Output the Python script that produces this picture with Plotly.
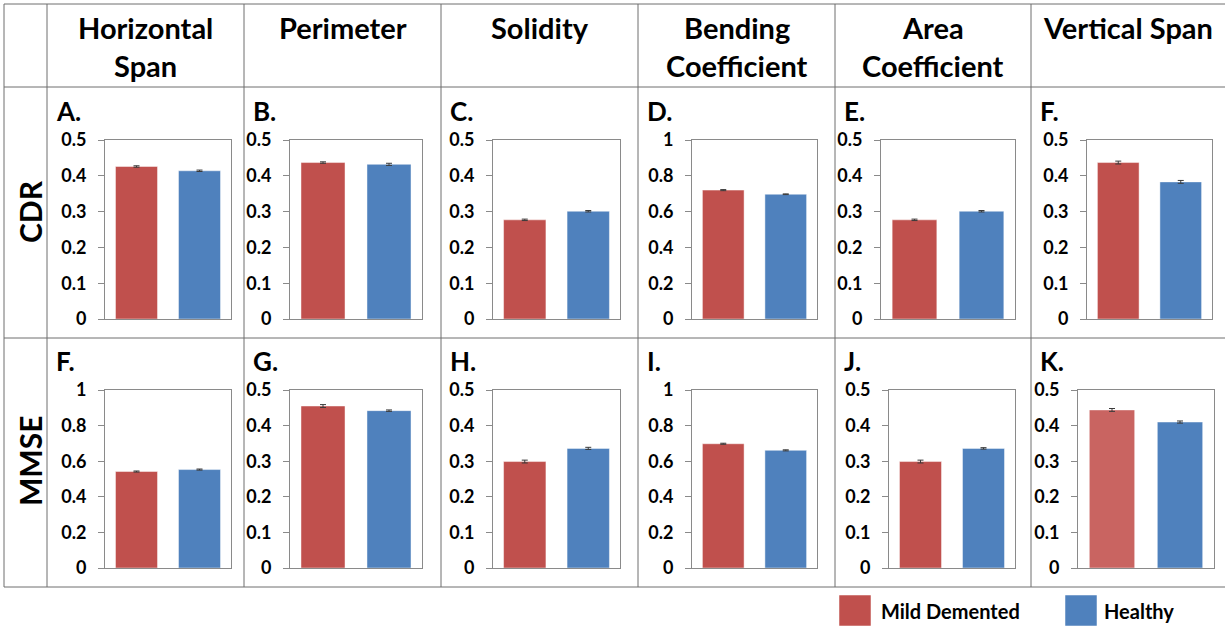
import plotly.graph_objects as go

W, H = 1225, 628

# ---------------- data ----------------
categories = ["Mild Demented", "Healthy"]
features = ["Horizontal Span", "Perimeter", "Solidity", "Bending Coefficient",
            "Area Coefficient", "Vertical Span"]
header_lines = [["Horizontal", "Span"], ["Perimeter"], ["Solidity"],
                ["Bending", "Coefficient"], ["Area", "Coefficient"], ["Vertical Span"]]
row_names = ["CDR", "MMSE"]
panel_labels_cdr = ["A.", "B.", "C.", "D.", "E.", "F."]
panel_labels_mmse = ["F.", "G.", "H.", "I.", "J.", "K."]

cdr_mild = [0.426, 0.437, 0.277, 0.720, 0.277, 0.437]
cdr_healthy = [0.414, 0.432, 0.301, 0.697, 0.301, 0.383]
cdr_mild_err = [0.002, 0.002, 0.002, 0.003, 0.002, 0.004]
cdr_healthy_err = [0.002, 0.003, 0.002, 0.002, 0.002, 0.004]
cdr_ymax = [0.5, 0.5, 0.5, 1.0, 0.5, 0.5]

mmse_mild = [0.542, 0.455, 0.299, 0.698, 0.299, 0.444]
mmse_healthy = [0.553, 0.442, 0.336, 0.661, 0.336, 0.410]
mmse_mild_err = [0.003, 0.004, 0.004, 0.003, 0.004, 0.004]
mmse_healthy_err = [0.003, 0.002, 0.003, 0.003, 0.002, 0.003]
mmse_ymax = [1.0, 0.5, 0.5, 1.0, 0.5, 0.5]

# ---------------- styles / layout ----------------
RED = "#C0504D"
RED_LIGHT = "#C96461"
BLUE = "#4F81BD"
FRAME = "#8A8A8A"
GRID = "#6E6E6E"
FONT = "Lato"

row1_x = [(105, 231), (290, 422), (493, 620), (692, 817), (881, 1015), (1087, 1212)]
row2_x = [(105, 231), (290, 422), (493, 620), (692, 817), (889, 1015), (1078, 1214)]
row_y = [(140, 319), (390, 568)]
col_lines = [4, 47, 244, 441, 638, 835, 1031]
row_lines = [4, 87, 338, 587]

rows = [
    (cdr_mild, cdr_healthy, cdr_mild_err, cdr_healthy_err, cdr_ymax, panel_labels_cdr, row1_x,
     [RED] * 6),
    (mmse_mild, mmse_healthy, mmse_mild_err, mmse_healthy_err, mmse_ymax, panel_labels_mmse, row2_x,
     [RED] * 5 + [RED_LIGHT]),
]

fig = go.Figure()
layout_axes = {}
annotations = []
idx = 0
for r, (mild, healthy, merr, herr, ymax, plabels, xpos, reds) in enumerate(rows):
    y0, y1 = row_y[r]
    for c in range(6):
        idx += 1
        xa = "x" if idx == 1 else f"x{idx}"
        ya = "y" if idx == 1 else f"y{idx}"
        fig.add_trace(go.Bar(
            x=categories, y=[mild[c], healthy[c]],
            error_y=dict(type="data", array=[merr[c], herr[c]], color="#3A3A3A",
                         thickness=1, width=3),
            marker=dict(color=[reds[c], BLUE],
                        line=dict(color="rgba(255,255,255,0.45)", width=1)),
            xaxis=xa, yaxis=ya, showlegend=False,
        ))
        x0, x1 = xpos[c]
        layout_axes["xaxis" if idx == 1 else f"xaxis{idx}"] = dict(
            domain=[x0 / W, x1 / W], anchor=ya, showticklabels=False, ticks="",
            showline=True, mirror=True, linecolor=FRAME, linewidth=1,
            showgrid=False, zeroline=False, range=[-0.5, 1.5], fixedrange=True,
            automargin=False,
        )
        layout_axes["yaxis" if idx == 1 else f"yaxis{idx}"] = dict(
            domain=[1 - y1 / H, 1 - y0 / H], anchor=xa, range=[0, ymax[c]],
            dtick=0.1 if ymax[c] == 0.5 else 0.2,
            ticks="outside", ticklen=6, tickcolor=FRAME, tickwidth=1,
            showline=True, mirror=True, linecolor=FRAME, linewidth=1,
            showgrid=False, zeroline=False, fixedrange=True, automargin=False,
            tickfont=dict(family=FONT, size=18, color="black", weight="bold"),
            ticklabelstandoff=8,
        )
        # panel label
        annotations.append(dict(
            text=plabels[c], xref="paper", yref="paper",
            x=(col_lines[c + 1] + 7) / W, y=1 - (y0 - 29) / H,
            xanchor="left", yanchor="middle", showarrow=False,
            font=dict(family=FONT, size=26, color="black", weight="bold"),
        ))

# column headers
for c in range(6):
    cx = (col_lines[c + 1] + (col_lines[c + 2] if c + 2 < len(col_lines) else 1225)) / 2
    for k, line in enumerate(header_lines[c]):
        annotations.append(dict(
            text=line, xref="paper", yref="paper",
            x=cx / W, y=1 - (27 + 39 * k) / H,
            xanchor="center", yanchor="middle", showarrow=False,
            font=dict(family=FONT, size=29, color="black", weight="bold"),
        ))

# row headers
for r, name in enumerate(row_names):
    cy = [212, 461][r]
    annotations.append(dict(
        text=name, xref="paper", yref="paper", x=30 / W, y=1 - cy / H,
        xanchor="center", yanchor="middle", showarrow=False, textangle=-90,
        font=dict(family=FONT, size=30, color="black", weight="bold"),
    ))

# legend
shapes = []
legend_items = [(categories[0], RED, 839, 879), (categories[1], BLUE, 1065, 1102)]
for name, col, bx, tx in legend_items:
    shapes.append(dict(type="rect", xref="paper", yref="paper",
                       x0=bx / W, x1=(bx + 32) / W, y0=1 - 626 / H, y1=1 - 595 / H,
                       fillcolor=col, line=dict(color="rgba(255,255,255,0.5)", width=1)))
    annotations.append(dict(
        text=name, xref="paper", yref="paper", x=tx / W, y=1 - 611 / H,
        xanchor="left", yanchor="middle", showarrow=False,
        font=dict(family=FONT, size=20, color="black", weight="bold"),
    ))

# table lines
for x in col_lines:
    shapes.append(dict(type="line", xref="paper", yref="paper",
                       x0=x / W, x1=x / W, y0=1 - row_lines[-1] / H, y1=1 - row_lines[0] / H,
                       line=dict(color=GRID, width=1)))
for y in row_lines:
    shapes.append(dict(type="line", xref="paper", yref="paper",
                       x0=col_lines[0] / W, x1=1, y0=1 - y / H, y1=1 - y / H,
                       line=dict(color=GRID, width=1)))

fig.update_layout(
    width=W, height=H, autosize=False,
    margin=dict(l=0, r=0, t=0, b=0, pad=0, autoexpand=False),
    paper_bgcolor="white", plot_bgcolor="white",
    bargap=0.333, showlegend=False, hovermode=False,
    annotations=annotations, shapes=shapes,
    **layout_axes,
)

fig.write_html(
    "out.html",
    config={"displayModeBar": False, "staticPlot": True},
    post_script="document.body.style.margin='0px';document.body.style.overflow='hidden';",
)
